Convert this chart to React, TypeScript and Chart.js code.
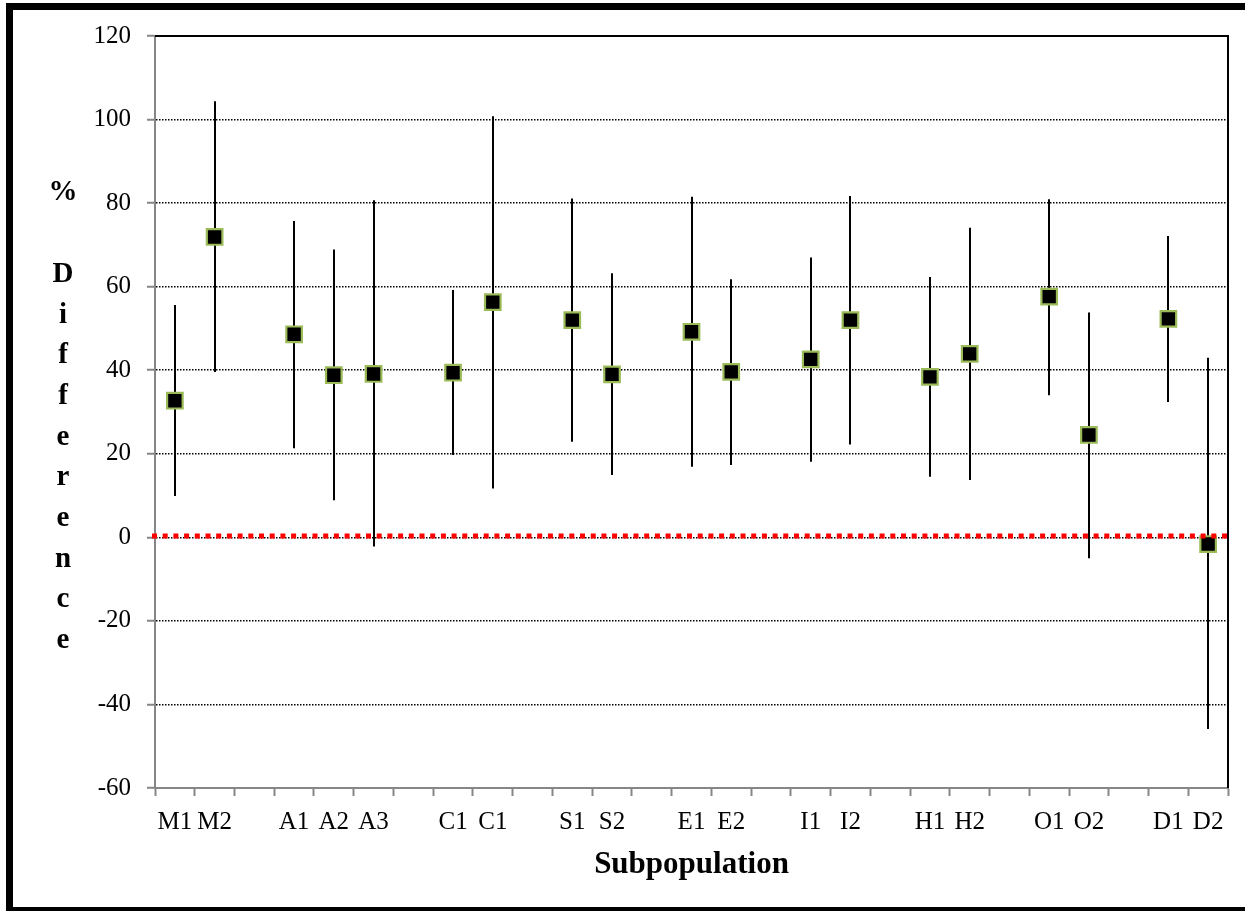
import React, { useEffect, useRef } from 'react';
import { Chart, registerables } from 'chart.js';

Chart.register(...registerables);

// ---- data ----
const categories = ['M1', 'M2', '', 'A1', 'A2', 'A3', '', 'C1', 'C1', '', 'S1', 'S2', '', 'E1', 'E2', '', 'I1', 'I2', '', 'H1', 'H2', '', 'O1', 'O2', '', 'D1', 'D2'];
const estimates = [32.7, 71.9, null, 48.6, 38.8, 39.1, null, 39.4, 56.3, null, 52.0, 39.0, null, 49.2, 39.6, null, 42.6, 52.0, null, 38.4, 43.9, null, 57.6, 24.5, null, 52.3, -1.6];
const upperLimits = [55.6, 104.4, null, 75.7, 68.9, 80.7, null, 59.2, 100.8, null, 81.1, 63.2, null, 81.5, 61.8, null, 67.0, 81.7, null, 62.3, 74.1, null, 80.9, 53.8, null, 72.1, 43.0];
const lowerLimits = [9.9, 39.6, null, 21.3, 8.9, -2.2, null, 19.7, 11.7, null, 22.9, 14.9, null, 16.9, 17.3, null, 18.1, 22.2, null, 14.5, 13.7, null, 34.0, -5.0, null, 32.4, -45.9];
const yMin = -60;
const yMax = 120;
const yStep = 20;
const referenceLineValue = 0.3;
const yTitleLines = ['%', '', 'D', 'i', 'f', 'f', 'e', 'r', 'e', 'n', 'c', 'e'];
const xTitle = 'Subpopulation';

const SERIF = "'Liberation Serif', 'Times New Roman', serif";
const AXIS_GRAY = '#868686';

const decorPlugin = {
  id: 'decor',
  beforeDatasetsDraw(chart: any) {
    const { ctx, scales } = chart;
    const x = scales.x;
    const y = scales.y;
    ctx.save();
    ctx.strokeStyle = '#000';
    ctx.lineWidth = 2;
    for (let i = 0; i < categories.length; i++) {
      const hi = upperLimits[i];
      const lo = lowerLimits[i];
      if (hi == null || lo == null) continue;
      const px = Math.round(x.getPixelForValue(i));
      ctx.beginPath();
      ctx.moveTo(px, y.getPixelForValue(hi));
      ctx.lineTo(px, y.getPixelForValue(lo));
      ctx.stroke();
    }
    ctx.restore();
  },
  afterDatasetsDraw(chart: any) {
    const { ctx, chartArea, scales } = chart;
    const y = scales.y;
    ctx.save();
    const ry = y.getPixelForValue(referenceLineValue);
    ctx.strokeStyle = '#FF0000';
    ctx.lineWidth = 5;
    ctx.setLineDash([5, 5.7]);
    ctx.beginPath();
    ctx.moveTo(chartArea.left - 3, ry);
    ctx.lineTo(chartArea.right, ry);
    ctx.stroke();
    ctx.setLineDash([]);
    ctx.strokeStyle = '#000';
    ctx.lineWidth = 2;
    ctx.beginPath();
    ctx.moveTo(chartArea.left, chartArea.top);
    ctx.lineTo(chartArea.right, chartArea.top);
    ctx.lineTo(chartArea.right, chartArea.bottom);
    ctx.stroke();
    ctx.restore();
  },
  afterDraw(chart: any) {
    const { ctx, chartArea } = chart;
    ctx.save();
    ctx.fillStyle = '#000';
    ctx.textAlign = 'center';
    ctx.textBaseline = 'middle';
    ctx.font = `bold 29px ${SERIF}`;
    const lineH = 40.7;
    const startY = chartArea.top + 157;
    yTitleLines.forEach((ch, i) => {
      if (ch) ctx.fillText(ch, 63, startY + i * lineH);
    });
    ctx.font = `bold 31px ${SERIF}`;
    ctx.fillText(xTitle, (chartArea.left + chartArea.right) / 2, chartArea.bottom + 77);
    ctx.restore();
  },
};

export default function App() {
  const canvasRef = useRef<HTMLCanvasElement>(null);

  useEffect(() => {
    if (!canvasRef.current) return;
    const chart = new Chart(canvasRef.current, {
      type: 'line',
      data: {
        labels: categories,
        datasets: [
          {
            label: '% Difference',
            data: estimates,
            showLine: false,
            pointStyle: 'rect',
            pointRadius: 11,
            pointHoverRadius: 11,
            pointBorderWidth: 2.2,
            pointBackgroundColor: '#000000',
            pointBorderColor: '#9BBB59',
          },
        ],
      },
      plugins: [decorPlugin],
      options: {
        animation: false,
        responsive: false,
        devicePixelRatio: 1,
        layout: { padding: { left: 0, right: 17, top: 36, bottom: 0 } },
        plugins: {
          legend: { display: false },
          tooltip: { enabled: false },
          title: { display: false },
        },
        scales: {
          x: {
            type: 'category',
            offset: true,
            grid: {
              offset: true,
              drawOnChartArea: false,
              drawTicks: true,
              tickLength: 8,
              tickColor: AXIS_GRAY,
              tickWidth: 2,
            },
            border: { display: true, color: AXIS_GRAY, width: 2 },
            ticks: {
              autoSkip: false,
              maxRotation: 0,
              minRotation: 0,
              padding: 11,
              color: '#000',
              font: { family: SERIF, size: 25 },
            },
            afterFit(scale: any) {
              scale.height = 123;
            },
          },
          y: {
            min: yMin,
            max: yMax,
            grid: {
              color: '#000',
              lineWidth: 1.5,
              drawTicks: true,
              tickLength: 8,
              tickColor: AXIS_GRAY,
              tickWidth: 2,
              tickBorderDash: [],
            },
            border: { display: true, color: AXIS_GRAY, width: 2, dash: [1.5, 1.5] },
            ticks: {
              stepSize: yStep,
              padding: 16,
              color: '#000',
              font: { family: SERIF, size: 25 },
            },
            afterFit(scale: any) {
              scale.width = 155;
            },
          },
        },
      },
    } as any);
    return () => chart.destroy();
  }, []);

  return (
    <div
      style={{
        position: 'absolute',
        left: 0,
        top: 0,
        width: 1245,
        height: 911,
        overflow: 'hidden',
        background: '#fff',
      }}
    >
      <canvas ref={canvasRef} width={1245} height={911} style={{ display: 'block', width: 1245, height: 911 }} />
      <div
        style={{
          position: 'absolute',
          left: 6,
          top: 3,
          width: 1250,
          height: 911,
          boxSizing: 'border-box',
          border: '7px solid #000',
          pointerEvents: 'none',
        }}
      />
    </div>
  );
}
